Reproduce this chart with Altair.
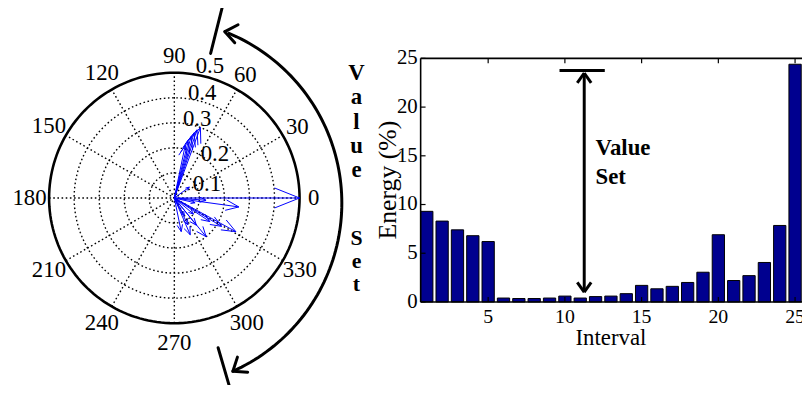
import math
import pandas as pd
import altair as alt

# ---------------- data ----------------
# Bar chart (right)
intervals = list(range(1, 26))
energy = [9.3, 8.3, 7.4, 6.8, 6.2, 0.4, 0.35, 0.35, 0.4, 0.6, 0.4, 0.55, 0.6, 0.85,
          1.7, 1.35, 1.6, 2.0, 3.05, 6.9, 2.2, 2.7, 4.05, 7.85, 24.4]
x_ticks = [5, 10, 15, 20, 25]
y_ticks = [0, 5, 10, 15, 20, 25]
x_lo, y_hi = 0.6, 25
x_title, y_title = "Interval", "Energy (%)"
x_title_pos = (13.0, -3.75)
y_title_pos = (-1.52, 12.5)

# Compass plot (left)
arrow_angle = [69.7, 71.6, 73.1, 74.7, 76.2, 78.3, 36.0, 0.0, -4.0, -7.9, -13.0, -28.7,
               -31.0, -33.6, -40.0, -50.6, -51.0, -60.0, -63.0, -66.6, -78.4]
arrow_mag = [0.300, 0.287, 0.272, 0.254, 0.232, 0.214, 0.074, 0.500, 0.127, 0.260, 0.085,
             0.280, 0.220, 0.170, 0.100, 0.200, 0.140, 0.080, 0.120, 0.160, 0.137]
ring_r = [0.1, 0.2, 0.3, 0.4]
r_max = 0.5
spoke_angles = [0, 30, 60, 90, 120, 150]
angle_labels = [0, 30, 60, 90, 120, 150, 180, 210, 240, 270, 300, 330]
radial_labels = ["0.1", "0.2", "0.3", "0.4", "0.5"]
radial_label_x = [0.130, 0.162, 0.091, 0.111, 0.142]
radial_label_y = [0.055, 0.174, 0.316, 0.419, 0.526]

# "Value Set" annotations
vs_word1 = ["V", "a", "l", "u", "e"]
vs_word2 = ["S", "e", "t"]
bar_note = ["Value", "Set"]
bar_note_y = [15.75, 12.84]
bar_note_x = 12.0
vs_x, vs_lo, vs_hi = 11.26, 1.0, 23.5
cap_y, cap_x0, cap_x1 = 23.75, 9.65, 12.6

# ---------------- layout ----------------
W, H = 802, 377
SERIF = "Liberation Serif"
NAVY = "#00008F"
BLUE = "#0000FF"

# polar coordinate frame
CX, CY, PX = 168.0, 190.0, 253.0
PXD = [-CX / PX, (W - CX) / PX]
PYD = [-(H - CY) / PX, CY / PX]
# bar coordinate frame
BX0, BXS, BY0, BYS = 407.5, 15.5, 295.0, 9.84
BXD = [-BX0 / BXS, (W - BX0) / BXS]
BYD = [-(H - BY0) / BYS, BY0 / BYS]


def cs(deg):
    return math.cos(math.radians(deg)), math.sin(math.radians(deg))


def PXe(f="x"):
    return alt.X(f"{f}:Q", scale=alt.Scale(domain=PXD, nice=False, zero=False), axis=None)


def PYe(f="y"):
    return alt.Y(f"{f}:Q", scale=alt.Scale(domain=PYD, nice=False, zero=False), axis=None)


def BXe(f):
    return alt.X(f"{f}:Q", scale=alt.Scale(domain=BXD, nice=False, zero=False), axis=None)


def BYe(f):
    return alt.Y(f"{f}:Q", scale=alt.Scale(domain=BYD, nice=False, zero=False), axis=None)


# ---------------- polar layers ----------------
ring_rows = []
for r in ring_r + [r_max]:
    for t in range(0, 361, 2):
        c, s = cs(t)
        ring_rows.append({"g": r, "t": t, "x": r * c, "y": r * s, "outer": r == r_max})
ring_df = pd.DataFrame(ring_rows)

rings = alt.Chart(ring_df[~ring_df.outer]).mark_line(
    color="black", strokeWidth=1.4, strokeDash=[1.6, 2.6]
).encode(x=PXe(), y=PYe(), detail="g:N", order="t:Q")

outer = alt.Chart(ring_df[ring_df.outer]).mark_line(
    color="black", strokeWidth=2.6
).encode(x=PXe(), y=PYe(), order="t:Q")

spoke_df = pd.DataFrame([
    {"x": -r_max * cs(a)[0], "y": -r_max * cs(a)[1],
     "x2": r_max * cs(a)[0], "y2": r_max * cs(a)[1]} for a in spoke_angles
])
spokes = alt.Chart(spoke_df).mark_rule(
    color="black", strokeWidth=1.4, strokeDash=[1.6, 2.6]
).encode(x=PXe(), y=PYe(), x2="x2:Q", y2="y2:Q")

seg = []
for a, m in zip(arrow_angle, arrow_mag):
    c, s = cs(a)
    tx, ty = m * c, m * s
    seg.append({"x": 0, "y": 0, "x2": tx, "y2": ty})
    for sgn in (1, -1):
        lx, ly = 0.8 * m, sgn * 0.08 * m
        seg.append({"x": tx, "y": ty, "x2": lx * c - ly * s, "y2": lx * s + ly * c})
arrows = alt.Chart(pd.DataFrame(seg)).mark_rule(color=BLUE, strokeWidth=1).encode(
    x=PXe(), y=PYe(), x2="x2:Q", y2="y2:Q")

al_df = pd.DataFrame([
    {"label": str(a),
     "x": (0.545 + 0.011 * len(str(a))) * cs(a)[0],
     "y": (0.545 + 0.011 * len(str(a))) * cs(a)[1]} for a in angle_labels
])
angle_text = alt.Chart(al_df).mark_text(
    font=SERIF, fontSize=23, color="black", align="center", baseline="middle"
).encode(x=PXe(), y=PYe(), text="label:N")

rl_df = pd.DataFrame({"label": radial_labels, "x": radial_label_x, "y": radial_label_y})
radial_text = alt.Chart(rl_df).mark_text(
    font=SERIF, fontSize=23, color="black", align="center", baseline="middle"
).encode(x=PXe(), y=PYe(), text="label:N")

# big curved double arrow ("Value Set" span)
ACX, ACY, AR = -16.8 / PX, -5.2 / PX, 186.0 / PX
A_START, A_END = -65.9, 68.6
arc_rows = []
t = A_START
while t <= A_END + 1e-9:
    c, s = cs(t)
    arc_rows.append({"t": t, "x": ACX + AR * c, "y": ACY + AR * s})
    t += 1.5
arc = alt.Chart(pd.DataFrame(arc_rows)).mark_line(color="black", strokeWidth=3).encode(
    x=PXe(), y=PYe(), order="t:Q")

head = []
BL = 15.0 / PX
for ang, back in ((A_END, A_END - 90 + 11), (A_START, A_START + 90 + 10)):
    c, s = cs(ang)
    tx, ty = ACX + AR * c, ACY + AR * s
    for d in (-38, 38):
        bc, bs = cs(back + d)
        head.append({"x": tx, "y": ty, "x2": tx + BL * bc, "y2": ty + BL * bs})
# boundary strokes of the value set
for ang, r0, r1 in ((75.9, 0.595, 0.80), (-73.7, 0.623, 0.80)):
    c, s = cs(ang)
    head.append({"x": r0 * c, "y": r0 * s, "x2": r1 * c, "y2": r1 * s})
arc_heads = alt.Chart(pd.DataFrame(head)).mark_rule(
    color="black", strokeWidth=3, strokeCap="round"
).encode(x=PXe(), y=PYe(), x2="x2:Q", y2="y2:Q")

vt1 = alt.Chart(pd.DataFrame({"t": ["\n".join(vs_word1)]})).mark_text(
    font=SERIF, fontSize=23, fontWeight="bold", color="black", align="center",
    baseline="alphabetic", lineBreak="\n", lineHeight=24.5
).encode(text="t:N", x=alt.value(352), y=alt.value(71))
vt2 = alt.Chart(pd.DataFrame({"t": ["\n".join(vs_word2)]})).mark_text(
    font=SERIF, fontSize=22, fontWeight="bold", color="black", align="center",
    baseline="alphabetic", lineBreak="\n", lineHeight=23.5
).encode(text="t:N", x=alt.value(352), y=alt.value(237))

polar = alt.layer(spokes, rings, outer, arrows, angle_text, radial_text, arc, arc_heads, vt1, vt2)

# ---------------- bar layers ----------------
bar_df = pd.DataFrame({"i": intervals, "v": energy})
bar_df["x0"] = bar_df["i"] - 0.4
bar_df["x1"] = bar_df["i"] + 0.4

bars = alt.Chart(bar_df).mark_bar(color=NAVY, stroke="black", strokeWidth=1).encode(
    x=BXe("x0"), x2="x1:Q", y=BYe("v"), y2=alt.datum(0))

x_hi = BXD[1] + 1
box_df = pd.DataFrame([
    {"x": x_lo, "y": 0, "x2": x_lo, "y2": y_hi},
    {"x": x_lo, "y": y_hi, "x2": x_hi, "y2": y_hi},
    {"x": x_lo, "y": 0, "x2": x_hi, "y2": 0},
])
box = alt.Chart(box_df).mark_rule(color="black", strokeWidth=1.6).encode(
    x=BXe("x"), y=BYe("y"), x2="x2:Q", y2="y2:Q")

tk = []
for v in x_ticks:
    tk.append({"x": v, "y": 0, "x2": v, "y2": 0.5})
    tk.append({"x": v, "y": y_hi, "x2": v, "y2": y_hi - 0.5})
for v in y_ticks:
    tk.append({"x": x_lo, "y": v, "x2": x_lo + 0.32, "y2": v})
ticks = alt.Chart(pd.DataFrame(tk)).mark_rule(color="black", strokeWidth=1.2).encode(
    x=BXe("x"), y=BYe("y"), x2="x2:Q", y2="y2:Q")

# tick labels (placed through the bar scales)
xl_df = pd.DataFrame({"x": x_ticks, "y": [0] * len(x_ticks), "label": [str(v) for v in x_ticks]})
x_labels = alt.Chart(xl_df).mark_text(
    font=SERIF, fontSize=20, color="black", align="center", baseline="middle", dy=15
).encode(x=BXe("x"), y=BYe("y"), text="label:N")
yl_df = pd.DataFrame({"x": [x_lo] * len(y_ticks), "y": y_ticks, "label": [str(v) for v in y_ticks]})
y_labels = alt.Chart(yl_df).mark_text(
    font=SERIF, fontSize=21, color="black", align="right", baseline="middle", dx=-3
).encode(x=BXe("x"), y=BYe("y"), text="label:N")

xt_df = pd.DataFrame({"x": [x_title_pos[0]], "y": [x_title_pos[1]], "label": [x_title]})
x_ttl = alt.Chart(xt_df).mark_text(
    font=SERIF, fontSize=23, color="black", align="center", baseline="middle"
).encode(x=BXe("x"), y=BYe("y"), text="label:N")
yt_df = pd.DataFrame({"x": [y_title_pos[0]], "y": [y_title_pos[1]], "label": [y_title]})
y_ttl = alt.Chart(yt_df).mark_text(
    font=SERIF, fontSize=26, color="black", align="center", baseline="middle", angle=270
).encode(x=BXe("x"), y=BYe("y"), text="label:N")

hb = 10 / BYS
hw = 7 / BXS
an = [
    {"x": cap_x0, "y": cap_y, "x2": cap_x1, "y2": cap_y},
    {"x": vs_x, "y": vs_lo, "x2": vs_x, "y2": vs_hi},
    {"x": vs_x, "y": vs_hi, "x2": vs_x - hw, "y2": vs_hi - hb},
    {"x": vs_x, "y": vs_hi, "x2": vs_x + hw, "y2": vs_hi - hb},
    {"x": vs_x, "y": vs_lo, "x2": vs_x - hw, "y2": vs_lo + hb},
    {"x": vs_x, "y": vs_lo, "x2": vs_x + hw, "y2": vs_lo + hb},
]
annot = alt.Chart(pd.DataFrame(an)).mark_rule(color="black", strokeWidth=3).encode(
    x=BXe("x"), y=BYe("y"), x2="x2:Q", y2="y2:Q")

note_df = pd.DataFrame({"label": bar_note, "y": bar_note_y})
note_df["x"] = bar_note_x
note = alt.Chart(note_df).mark_text(
    font=SERIF, fontSize=23, fontWeight="bold", color="black", align="left", baseline="middle"
).encode(x=BXe("x"), y=BYe("y"), text="label:N")

barc = alt.layer(bars, box, ticks, x_labels, y_labels, x_ttl, y_ttl, annot, note)

chart = alt.layer(polar, barc).resolve_scale(
    x="independent", y="independent"
).properties(
    width=W, height=H, autosize=alt.AutoSizeParams(type="none"), padding=0,
    background="white"
).configure_view(strokeWidth=0, stroke="transparent")

chart.save("out.html", embed_options={"renderer": "svg", "actions": False})
